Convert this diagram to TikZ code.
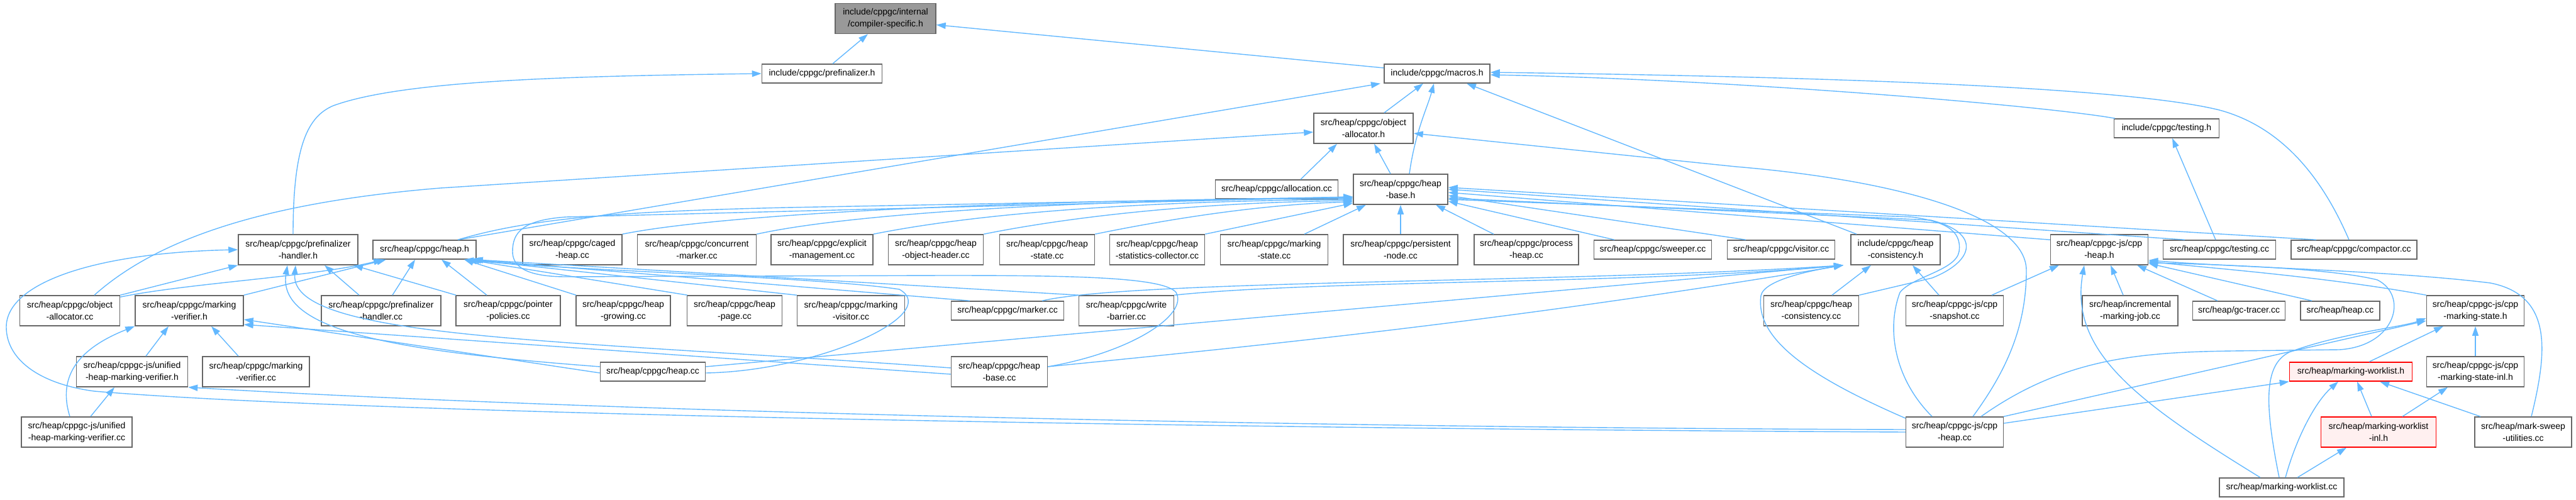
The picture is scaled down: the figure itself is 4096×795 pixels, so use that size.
\documentclass[tikz,border=0pt]{standalone}
\usepackage{fontspec}
\setmainfont{Liberation Sans}
\usetikzlibrary{arrows.meta}
\definecolor{edgeblue}{HTML}{63B8FF}
\definecolor{boxborder}{HTML}{666666}
\definecolor{curfill}{HTML}{999999}
\definecolor{hlfill}{HTML}{FFF0F0}
\definecolor{hlborder}{HTML}{FF0000}
\tikzset{
  box/.style={draw=boxborder, line width=1.5pt, fill=white, inner sep=0pt, align=center,
    font=\fontsize{14}{19}\selectfont, minimum height=30pt},
  two/.style={minimum height=48pt},
  hl/.style={draw=hlborder, fill=hlfill},
  cur/.style={fill=curfill, draw=boxborder},
  e/.style={draw=edgeblue, line width=1.4pt, -{Triangle[length=15pt,width=10pt]}},
}
\begin{document}
\begin{tikzpicture}[x=1pt,y=-1pt]
\useasboundingbox (0,0) rectangle (4096,795);
% ---------- nodes ----------
\node[box,cur,two,minimum width=160pt] (compiler) at (1408,29.5) {include/cppgc/internal\\/compiler-specific.h};
\node[box,minimum width=191pt] (prefinalizer) at (1307,117) {include/cppgc/prefinalizer.h};
\node[box,minimum width=168pt] (macros) at (2285,117) {include/cppgc/macros.h};
\node[box,two,minimum width=158pt] (objalloc) at (2168,204) {src/heap/cppgc/object\\-allocator.h};
\node[box,minimum width=167pt] (testingh) at (3445,204) {include/cppgc/testing.h};
\node[box,minimum width=195pt] (allocation) at (2030,301) {src/heap/cppgc/allocation.cc};
\node[box,two,minimum width=150pt] (heapbase) at (2227,301) {src/heap/cppgc/heap\\-base.h};
% row 4
\node[box,two,minimum width=190pt] (pfh) at (474,397) {src/heap/cppgc/prefinalizer\\-handler.h};
\node[box,minimum width=164pt] (heaph) at (675,397) {src/heap/cppgc/heap.h};
\node[box,two,minimum width=158pt] (caged) at (910,397) {src/heap/cppgc/caged\\-heap.cc};
\node[box,two,minimum width=189pt] (concurrent) at (1108,397) {src/heap/cppgc/concurrent\\-marker.cc};
\node[box,two,minimum width=162pt] (explicit) at (1307,397) {src/heap/cppgc/explicit\\-management.cc};
\node[box,two,minimum width=151pt] (hoh) at (1488,397) {src/heap/cppgc/heap\\-object-header.cc};
\node[box,two,minimum width=151pt] (heapstate) at (1665,397) {src/heap/cppgc/heap\\-state.cc};
\node[box,two,minimum width=151pt] (hsc) at (1840,397) {src/heap/cppgc/heap\\-statistics-collector.cc};
\node[box,two,minimum width=171pt] (markingstate) at (2026,397) {src/heap/cppgc/marking\\-state.cc};
\node[box,two,minimum width=182pt] (persistent) at (2227,397) {src/heap/cppgc/persistent\\-node.cc};
\node[box,two,minimum width=166pt] (process) at (2427,397) {src/heap/cppgc/process\\-heap.cc};
\node[box,minimum width=187pt] (sweeper) at (2628,397) {src/heap/cppgc/sweeper.cc};
\node[box,minimum width=171pt] (visitor) at (2832,397) {src/heap/cppgc/visitor.cc};
\node[box,two,minimum width=142pt] (heapconsh) at (3014,397) {include/cppgc/heap\\-consistency.h};
\node[box,two,minimum width=155pt] (cppheaph) at (3338,397) {src/heap/cppgc-js/cpp\\-heap.h};
\node[box,minimum width=179pt] (testingcc) at (3529,397) {src/heap/cppgc/testing.cc};
\node[box,minimum width=200pt] (compactor) at (3743,397) {src/heap/cppgc/compactor.cc};
% row 5
\node[box,two,minimum width=159pt] (objalloccc) at (111,494) {src/heap/cppgc/object\\-allocator.cc};
\node[box,two,minimum width=172pt] (mvh) at (301,494) {src/heap/cppgc/marking\\-verifier.h};
\node[box,two,minimum width=190pt] (pfhcc) at (606,494) {src/heap/cppgc/prefinalizer\\-handler.cc};
\node[box,two,minimum width=166pt] (pp) at (808,494) {src/heap/cppgc/pointer\\-policies.cc};
\node[box,two,minimum width=150pt] (growing) at (991,494) {src/heap/cppgc/heap\\-growing.cc};
\node[box,two,minimum width=151pt] (page) at (1168,494) {src/heap/cppgc/heap\\-page.cc};
\node[box,two,minimum width=171pt] (mvis) at (1353,494) {src/heap/cppgc/marking\\-visitor.cc};
\node[box,minimum width=179pt] (marker) at (1602,494) {src/heap/cppgc/marker.cc};
\node[box,two,minimum width=151pt] (wb) at (1791,494) {src/heap/cppgc/write\\-barrier.cc};
\node[box,two,minimum width=151pt] (heapconscc) at (2880,494) {src/heap/cppgc/heap\\-consistency.cc};
\node[box,two,minimum width=155pt] (snapshot) at (3108,494) {src/heap/cppgc-js/cpp\\-snapshot.cc};
\node[box,two,minimum width=152pt] (imj) at (3387,494) {src/heap/incremental\\-marking-job.cc};
\node[box,minimum width=147pt] (gctracer) at (3560,494) {src/heap/gc-tracer.cc};
\node[box,minimum width=126pt] (heapcc) at (3721,494) {src/heap/heap.cc};
\node[box,two,minimum width=155pt] (cmsh) at (3936,494) {src/heap/cppgc-js/cpp\\-marking-state.h};
% row 6
\node[box,two,minimum width=177pt] (uhh) at (210,591) {src/heap/cppgc-js/unified\\-heap-marking-verifier.h};
\node[box,two,minimum width=170pt] (mvcc) at (407,591) {src/heap/cppgc/marking\\-verifier.cc};
\node[box,minimum width=167pt] (cppgcheapcc) at (1038,591) {src/heap/cppgc/heap.cc};
\node[box,two,minimum width=153pt] (heapbasecc) at (1589,591) {src/heap/cppgc/heap\\-base.cc};
\node[box,hl,minimum width=195pt] (mwlh) at (3738,591) {src/heap/marking-worklist.h};
\node[box,two,minimum width=155pt] (cmsinl) at (3936,591) {src/heap/cppgc-js/cpp\\-marking-state-inl.h};
% row 7
\node[box,two,minimum width=176pt] (uhcc) at (122,687) {src/heap/cppgc-js/unified\\-heap-marking-verifier.cc};
\node[box,two,minimum width=155pt] (cppheapcc) at (3108,687) {src/heap/cppgc-js/cpp\\-heap.cc};
\node[box,hl,two,minimum width=183pt] (mwlinl) at (3782,687) {src/heap/marking-worklist\\-inl.h};
\node[box,two,minimum width=154pt] (msu) at (4012,687) {src/heap/mark-sweep\\-utilities.cc};
% row 8
\node[box,minimum width=198pt] (mwlcc) at (3628,775) {src/heap/marking-worklist.cc};

% ---------- edges ----------
\draw[e] ([xshift=17pt]prefinalizer.north) -- ([xshift=-28pt]compiler.south);
\draw[e] ([yshift=9pt]macros.west) -- ([yshift=-10pt]compiler.east);
\draw[e] ([xshift=-8pt]pfh.north) .. controls (466,230) and (490,185) .. (530,168) .. controls (640,128) and (900,121) .. (prefinalizer.west);
\draw[e] ([xshift=33pt]objalloc.north) -- ([xshift=-22pt]macros.south);
\draw[e] ([xshift=14pt]heapbase.north) .. controls (2250,210) and (2270,170) .. ([xshift=-5pt]macros.south);
\draw[e] ([xshift=53pt]heaph.north) -- ([xshift=-90pt]macros.south);
\draw[e] ([xshift=-82pt]testingh.north) .. controls (3250,168) and (2750,126) .. ([yshift=-2pt]macros.east);
\draw[e] ([xshift=-8pt]compactor.north) .. controls (3700,300) and (3640,205) .. (3529,175) .. controls (3380,138) and (2900,122) .. ([yshift=2pt]macros.east);
\draw[e] ([xshift=-62pt]heapconsh.north) -- ([xshift=47pt]macros.south);
\draw[e] ([xshift=-16pt]heapbase.north) -- ([xshift=17pt]objalloc.south);
\draw[e] ([xshift=38pt]allocation.north) -- ([xshift=-42pt]objalloc.south);
\draw[e] ([xshift=39pt]objalloccc.north) .. controls (250,380) and (420,322) .. (700,299) -- ([yshift=-6pt]objalloc.west);
\draw[e] ([xshift=29pt]cppheapcc.north) .. controls (3190,590) and (3222,520) .. (3222,430) .. controls (3222,340) and (3000,285) .. (2760,265) -- ([yshift=-8pt]objalloc.east);
\draw[e] ([xshift=-6pt]testingcc.north) -- ([xshift=9pt]testingh.south);
% into heap-base.h
\draw[e] ([xshift=53pt]heaph.north) .. controls (850,345) and (1000,336) .. (1250,330) -- ([yshift=-12pt]heapbase.west);
\draw[e] (caged.north east) .. controls (1150,340) and (1600,318) .. ([yshift=-14pt]heapbase.west);
\draw[e] (concurrent.north east) .. controls (1350,340) and (1700,318) .. ([yshift=-14pt]heapbase.west);
\draw[e] (explicit.north east) .. controls (1550,340) and (1800,320) .. ([yshift=-16pt]heapbase.west);
\draw[e] (hoh.north east) .. controls (1700,345) and (1900,322) .. ([yshift=-18pt]heapbase.west);
\draw[e] (heapstate.north east) .. controls (1850,350) and (2000,325) .. ([yshift=-20pt]heapbase.west);
\draw[e] (hsc.north east) -- ([yshift=-22pt]heapbase.west);
\draw[e] ([xshift=48pt]markingstate.north) -- ([xshift=-55pt]heapbase.south);
\draw[e] (persistent.north) -- (heapbase.south);
\draw[e] ([xshift=-52pt]process.north) -- ([xshift=56pt]heapbase.south);
\draw[e] ([xshift=-61pt]sweeper.north) -- ([yshift=-19pt]heapbase.east);
\draw[e] ([xshift=-56pt]visitor.north) -- ([yshift=-10pt]heapbase.east);
\draw[e] ([yshift=-9pt]cppheaph.north west) -- ([yshift=-5pt]heapbase.east);
\draw[e] ([xshift=-55pt]testingcc.north) -- (heapbase.east);
\draw[e] ([xshift=-60pt]compactor.north) -- ([yshift=3pt]heapbase.east);
\draw[e] (heapconscc.north east) -- (3072,442) .. controls (3140,415) and (3150,370) .. (3070,350) -- ([yshift=-14pt]heapbase.east);
\draw[e] ([xshift=-36pt]cppheapcc.north) .. controls (3010,600) and (3000,520) .. (3021,465) .. controls (3040,440) and (3110,430) .. (3115,400) .. controls (3120,365) and (3090,352) .. (3040,345) -- ([yshift=-16pt]heapbase.east);
\draw[e] ([yshift=8pt]heapbasecc.east) .. controls (1800,560) and (1890,500) .. (1870,465) .. controls (1850,440) and (1700,438) .. (1500,438) -- (900,440) .. controls (830,440) and (815,420) .. (815,400) .. controls (815,370) and (830,350) .. (900,345) -- ([yshift=-12pt]heapbase.west);
% into heap.h
\draw[e] ([xshift=-35pt]pfhcc.north) -- ([xshift=42pt]pfh.south);
\draw[e] ([xshift=18pt]pfhcc.north) -- ([xshift=-15pt]heaph.south);
\draw[e] ([xshift=-83pt]pp.north) -- ([xshift=88pt]pfh.south);
\draw[e] ([xshift=-34pt]pp.north) -- ([xshift=27pt]heaph.south);
\draw[e] (mvh.north east) -- ([xshift=-61pt]heaph.south);
\draw[e] (objalloccc.north east) -- (pfh.south west);
\draw[e] ([yshift=-3pt]objalloccc.north east) .. controls (300,450) and (500,440) .. ([xshift=-66pt]heaph.south);
\draw[e] ([xshift=-75pt]growing.north) -- ([xshift=63pt]heaph.south);
\draw[e] ([xshift=-75pt]page.north) -- ([xshift=68pt]heaph.south);
\draw[e] (mvis.north west) -- ([xshift=72pt]heaph.south);
\draw[e] ([xshift=-60pt]marker.north) -- ([xshift=75pt]heaph.south);
\draw[e] (wb.north west) -- ([xshift=78pt]heaph.south);
\draw[e] ([yshift=-2pt]cppgcheapcc.east) .. controls (1300,590) and (1500,500) .. (1430,460) .. controls (1300,440) and (900,430) .. ([xshift=63pt]heaph.south);
% into heap-consistency.h
\draw[e] ([yshift=8pt]cppgcheapcc.east) -- ([xshift=-83pt]heapconsh.south);
\draw[e] ([yshift=8pt]heapbasecc.east) .. controls (2000,550) and (2400,510) .. ([xshift=-83pt]heapconsh.south);
\draw[e] ([xshift=55pt]marker.north) .. controls (1800,445) and (2500,450) .. ([xshift=-83pt]heapconsh.south);
\draw[e] (wb.north east) .. controls (2100,445) and (2600,452) .. ([xshift=-83pt]heapconsh.south);
\draw[e] ([xshift=33pt]heapconscc.north) -- ([xshift=-39pt]heapconsh.south);
\draw[e] ([xshift=-25pt]snapshot.north) -- ([xshift=27pt]heapconsh.south);
\draw[e] ([yshift=22pt]cppheapcc.west) .. controls (2880,600) and (2790,540) .. (2800,470) .. controls (2805,445) and (2880,430) .. ([xshift=-83pt]heapconsh.south);
% into prefinalizer-handler.h / marking-verifier.h
\draw[e] ([yshift=8pt]cppgcheapcc.west) .. controls (650,560) and (440,530) .. ([xshift=-17pt]pfh.south);
\draw[e] ([yshift=6pt]heapbasecc.west) .. controls (900,540) and (460,540) .. ([xshift=-4pt]pfh.south);
\draw[e] ([yshift=-2pt]cppgcheapcc.west) -- ([yshift=-14pt]mvh.east);
\draw[e] ([yshift=-4pt]heapbasecc.west) -- ([yshift=-22pt]mvh.east);
\draw[e] ([xshift=22pt]uhh.north) -- ([xshift=-33pt]mvh.south);
\draw[e] ([xshift=-28pt]mvcc.north) -- ([xshift=35pt]mvh.south);
\draw[e] ([xshift=-11pt]uhcc.north) .. controls (95,610) and (110,560) .. (mvh.south west);
\draw[e] ([xshift=22pt]uhcc.north) -- ([xshift=-28pt]uhh.south);
\draw[e] (cppheapcc.west) .. controls (2000,682) and (600,660) .. (150,622) .. controls (60,610) and (10,570) .. (10,520) .. controls (10,450) and (150,402) .. (pfh.west);
\draw[e] ([yshift=4pt]cppheapcc.west) .. controls (2000,680) and (900,652) .. (uhh.south east);
% cpp-heap.h and friends
\draw[e] ([xshift=59pt]snapshot.north) -- ([xshift=-64pt]cppheaph.south);
\draw[e] ([xshift=-11pt]imj.north) -- ([xshift=18pt]cppheaph.south);
\draw[e] ([xshift=-34pt]gctracer.north) -- ([xshift=60pt]cppheaph.south);
\draw[e] ([xshift=-45pt]heapcc.north) -- ([yshift=3pt]cppheaph.south east);
\draw[e] (cmsh.north west) .. controls (3700,440) and (3500,425) .. ([yshift=6pt]cppheaph.south east);
\draw[e] ([xshift=13pt]msu.north) .. controls (4050,560) and (4060,470) .. (3960,450) .. controls (3800,430) and (3550,425) .. ([yshift=8pt]cppheaph.south east);
\draw[e] ([xshift=42pt]cppheapcc.north) .. controls (3280,570) and (3400,560) .. (3550,558) -- (3720,556) .. controls (3810,550) and (3830,470) .. (3780,445) .. controls (3700,425) and (3500,420) .. ([yshift=4pt]cppheaph.south east);
\draw[e] ([xshift=-34pt]mwlcc.north) .. controls (3400,640) and (3290,560) .. ([xshift=-24pt]cppheaph.south);
\draw[e] ([xshift=-4pt]mwlcc.north) .. controls (3600,640) and (3600,580) .. (3640,560) .. controls (3720,530) and (3820,520) .. ([yshift=-12pt]cmsh.west);
\draw[e] ([xshift=78pt]cppheapcc.north) -- ([yshift=-16pt]cmsh.west);
\draw[e] ([xshift=29pt]mwlh.north) -- ([xshift=-51pt]cmsh.south);
\draw[e] (cmsinl.north) -- (cmsh.south);
\draw[e] ([xshift=-11pt]mwlinl.north) -- ([xshift=10pt]mwlh.south);
\draw[e] ([xshift=38pt]mwlinl.north) -- ([xshift=-44pt]cmsinl.south);
\draw[e] ([xshift=-68pt]msu.north) -- ([xshift=46pt]mwlh.south);
\draw[e] ([xshift=25pt]mwlcc.north) -- ([xshift=-51pt]mwlinl.south);
\draw[e] ([xshift=6pt]mwlcc.north) .. controls (3650,700) and (3680,640) .. ([xshift=-20pt]mwlh.south);
\draw[e] ([yshift=14pt]cppheapcc.east) -- (mwlh.south west);
\end{tikzpicture}
\end{document}
